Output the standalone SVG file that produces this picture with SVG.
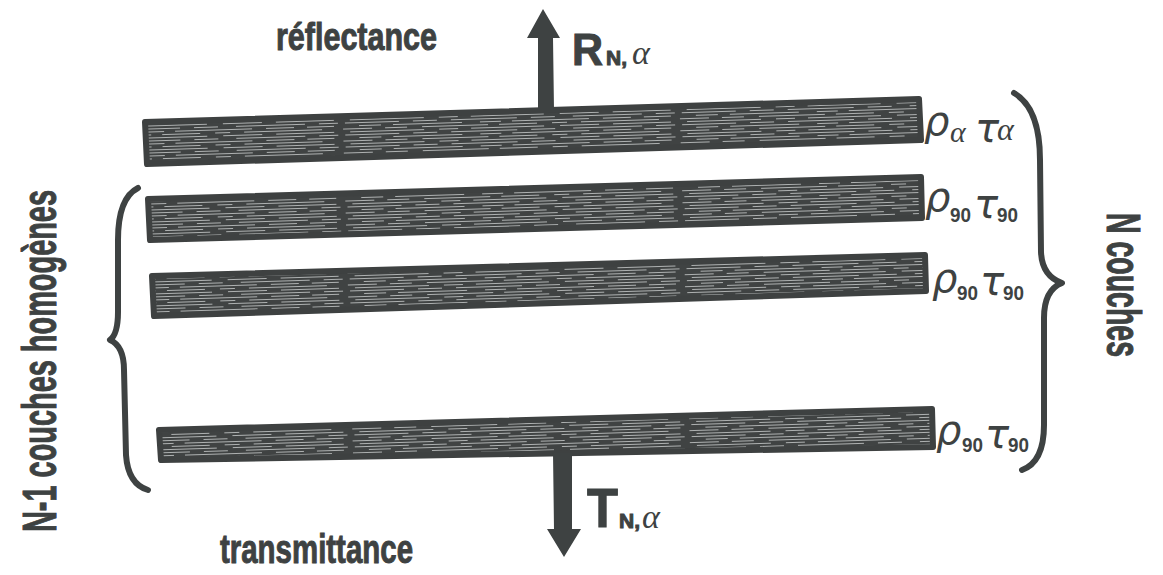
<svg xmlns="http://www.w3.org/2000/svg" width="1163" height="575" viewBox="0 0 1163 575">
  <defs>
    <pattern id="streak" patternUnits="userSpaceOnUse" width="337" height="12" patternTransform="rotate(-1.75)">
      <rect width="337" height="12" fill="#404343"/>
      <g stroke="#aeb1b1" stroke-width="1">
        <line x1="4" y1="1.5" x2="58" y2="1.5"/>
        <line x1="72" y1="1.5" x2="96" y2="1.5"/>
        <line x1="110" y1="1.5" x2="176" y2="1.5"/>
        <line x1="190" y1="1.5" x2="214" y2="1.5"/>
        <line x1="232" y1="1.5" x2="301" y2="1.5"/>
        <line x1="315" y1="1.5" x2="334" y2="1.5"/>
        <line x1="18" y1="4.5" x2="40" y2="4.5"/>
        <line x1="52" y1="4.5" x2="121" y2="4.5"/>
        <line x1="139" y1="4.5" x2="160" y2="4.5"/>
        <line x1="171" y1="4.5" x2="248" y2="4.5"/>
        <line x1="262" y1="4.5" x2="290" y2="4.5"/>
        <line x1="303" y1="4.5" x2="330" y2="4.5"/>
        <line x1="2" y1="7.5" x2="31" y2="7.5"/>
        <line x1="44" y1="7.5" x2="66" y2="7.5"/>
        <line x1="81" y1="7.5" x2="147" y2="7.5"/>
        <line x1="158" y1="7.5" x2="196" y2="7.5"/>
        <line x1="211" y1="7.5" x2="226" y2="7.5"/>
        <line x1="240" y1="7.5" x2="318" y2="7.5"/>
        <line x1="9" y1="10.5" x2="83" y2="10.5"/>
        <line x1="98" y1="10.5" x2="117" y2="10.5"/>
        <line x1="130" y1="10.5" x2="203" y2="10.5"/>
        <line x1="219" y1="10.5" x2="258" y2="10.5"/>
        <line x1="272" y1="10.5" x2="330" y2="10.5"/>
      </g>
    </pattern>
    <style>
      .plate { fill: url(#streak); stroke: #3e4141; stroke-width: 6; stroke-linejoin: round; }
      .arrow { fill: #3e4242; }
      .brace { fill: none; stroke: #3e4242; stroke-width: 6; stroke-linecap: round; stroke-linejoin: round; }
      .cond { font-family: "Liberation Sans", Arial, sans-serif; font-weight: bold; fill: #3e4242; stroke: #3e4242; stroke-width: 1; }
      .greek { font-family: "DejaVu Sans", "Liberation Sans", sans-serif; font-style: italic; fill: #3e4242; }
      .alpha { font-family: "Liberation Serif", "DejaVu Serif", serif; font-style: italic; fill: #3e4242; }
      .sub { font-family: "Liberation Sans", Arial, sans-serif; font-weight: bold; fill: #3e4242; font-size: 20px; }
    </style>
  </defs>
  <rect width="1163" height="575" fill="#ffffff"/>

  <g id="plate1">
    <polygon class="plate" points="145,122 919,99 921,140 147,164"/>
    <text class="greek" x="924" y="135" font-size="40">ρ</text>
    <text class="alpha" x="950" y="142" font-size="30">α</text>
    <text class="greek" x="975" y="142" font-size="40">τ</text>
    <text class="alpha" x="997" y="140" font-size="32">α</text>
  </g>
  <g id="plate2">
    <polygon class="plate" points="148,199 921,177 922,218 150,240"/>
    <text class="greek" x="925" y="211" font-size="40">ρ</text>
    <text class="sub" x="950" y="222" textLength="21" lengthAdjust="spacingAndGlyphs">90</text>
    <text class="greek" x="974" y="218" font-size="40">τ</text>
    <text class="sub" x="997" y="222" textLength="21" lengthAdjust="spacingAndGlyphs">90</text>
  </g>
  <g id="plate3">
    <polygon class="plate" points="152,276 925,255 926,291 154,316"/>
    <text class="greek" x="932" y="292" font-size="40">ρ</text>
    <text class="sub" x="957" y="300" textLength="21" lengthAdjust="spacingAndGlyphs">90</text>
    <text class="greek" x="980" y="295" font-size="40">τ</text>
    <text class="sub" x="1003" y="300" textLength="21" lengthAdjust="spacingAndGlyphs">90</text>
  </g>
  <g id="plate4">
    <polygon class="plate" points="159,430 932,409 933,447 161,460"/>
    <text class="greek" x="936" y="444" font-size="40">ρ</text>
    <text class="sub" x="962" y="452" textLength="21" lengthAdjust="spacingAndGlyphs">90</text>
    <text class="greek" x="985" y="448" font-size="40">τ</text>
    <text class="sub" x="1008" y="452" textLength="21" lengthAdjust="spacingAndGlyphs">90</text>
  </g>

  <g id="connectors">
    <polygon class="arrow" points="538,110 538,38 527,38 543,9 560,38 553,38 554,110"/>
    <polygon class="arrow" points="553,453 572,453 572,529 581,529 564,557 547,529 554,529"/>
  </g>

  <g id="braces">
    <path class="brace" d="M138,188 Q118,198 118,240 L118,312 Q118,334 110,340 Q124,346 124,370 L126,455 Q128,484 148,490"/>
    <path class="brace" d="M1014,93 Q1040,108 1040,160 L1041,252 Q1042,276 1062,283 Q1044,290 1044,318 L1044,425 Q1044,462 1022,470"/>
  </g>

  <g id="labels">
    <text class="cond" x="276" y="50" font-size="38" textLength="161" lengthAdjust="spacingAndGlyphs">réflectance</text>
    <text class="cond" x="220" y="563" font-size="40" textLength="193" lengthAdjust="spacingAndGlyphs">transmittance</text>
    <g id="R-label">
      <text class="cond" x="572" y="65" font-size="44" textLength="31" lengthAdjust="spacingAndGlyphs">R</text>
      <text class="cond" x="606" y="65" font-size="21">N,</text>
      <text class="alpha" x="632" y="64" font-size="34">α</text>
    </g>
    <g id="T-label">
      <text class="cond" x="587" y="527" font-size="55" textLength="31" lengthAdjust="spacingAndGlyphs">T</text>
      <text class="cond" x="619" y="528" font-size="21">N,</text>
      <text class="alpha" x="642" y="528" font-size="34">α</text>
    </g>
    <text class="cond" transform="translate(56,532) rotate(-90)" font-size="48" textLength="342" lengthAdjust="spacingAndGlyphs">N-1 couches homogènes</text>
    <text class="cond" transform="translate(1107,213) rotate(90)" font-size="48" textLength="144" lengthAdjust="spacingAndGlyphs">N couches</text>
  </g>
</svg>
